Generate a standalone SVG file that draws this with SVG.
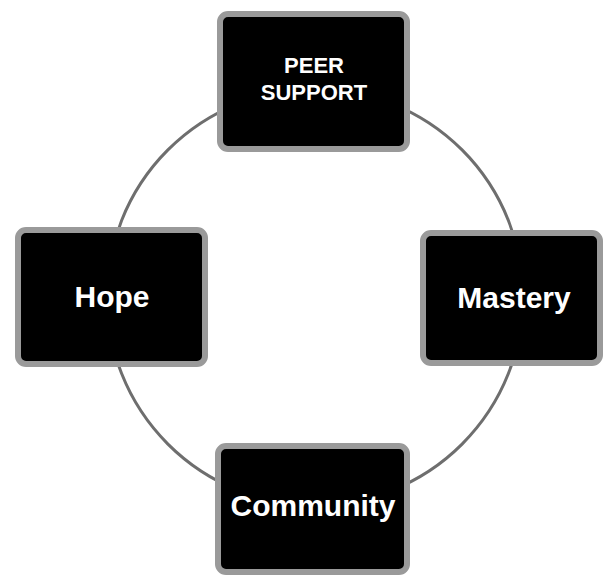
<svg xmlns="http://www.w3.org/2000/svg" width="604" height="576" viewBox="0 0 604 576">
<style>
.conn{fill:none;stroke:#6e6e6e;stroke-width:3}
.box{fill:#000;stroke:#9a9a9a;stroke-width:6}
.lbl{fill:#fff;font-family:"Liberation Sans",Arial,sans-serif;font-weight:bold;text-anchor:middle}
</style>
<rect width="604" height="576" fill="#fff"/>
<g id="connectors">
<path class="conn" d="M315,89 A208,208 0 0 0 107,297"/>
<path class="conn" d="M315,89 A208,208 0 0 1 523,297"/>
<path class="conn" d="M107,297 A208,208 0 0 0 315,505"/>
<path class="conn" d="M523,297 A208,208 0 0 1 315,505"/>
</g>
<g id="node-peer-support">
<rect class="box" x="220" y="14" width="187" height="135" rx="8"/>
<text class="lbl" x="314" y="73" font-size="22">PEER</text>
<text class="lbl" x="314" y="100" font-size="22">SUPPORT</text>
</g>
<g id="node-mastery">
<rect class="box" x="423" y="233" width="177" height="130" rx="8"/>
<text class="lbl" x="514" y="308" font-size="30">Mastery</text>
</g>
<g id="node-hope">
<rect class="box" x="18" y="230" width="187" height="134" rx="8"/>
<text class="lbl" x="112" y="307" font-size="30">Hope</text>
</g>
<g id="node-community">
<rect class="box" x="218" y="446" width="189" height="126" rx="8"/>
<text class="lbl" x="313" y="516" font-size="30">Community</text>
</g>
</svg>
